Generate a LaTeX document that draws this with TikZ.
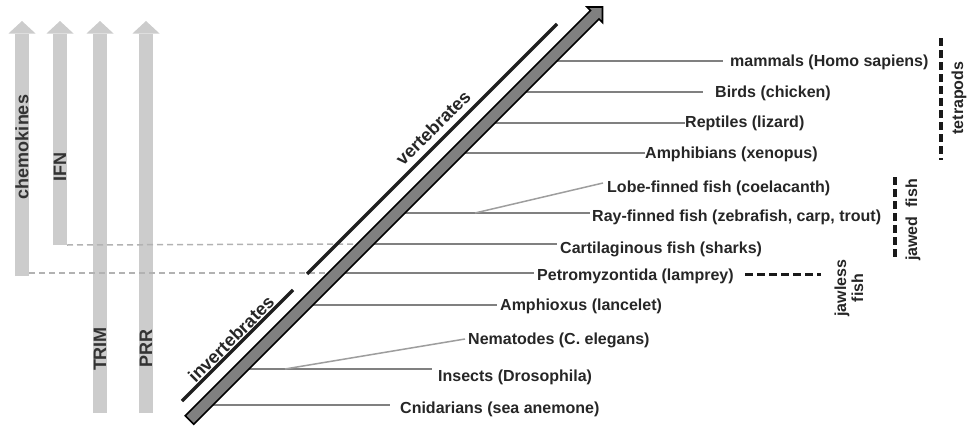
\documentclass[tikz,border=0pt]{standalone}
\usepackage{fontspec}
\setmainfont{Liberation Sans}
\usetikzlibrary{arrows.meta, calc}

\begin{document}
\begin{tikzpicture}[x=1pt, y=-1pt,
  taxon/.style={font=\fontsize{16}{18}\selectfont\bfseries, text=black!85,
                inner sep=0pt, anchor=west},
  branch/.style={draw=black!50, line width=2pt},
  twig/.style={draw=black!38, line width=1.5pt},
  gene/.style={draw=black!20, line width=14pt,
               -{Triangle[width=27pt, length=12.5pt, line width=0pt]}},
  genelabel/.style={font=\fontsize{18}{20}\selectfont\bfseries, text=black!80,
                    rotate=90},
  link/.style={draw=black!30, line width=1.5pt, dash pattern=on 6pt off 4pt},
  clade/.style={draw=black!88, line width=3.5pt},
  cladelabel/.style={font=\fontsize{18}{20}\selectfont\bfseries, text=black!85,
                     rotate=45},
  group/.style={draw=black!90, line width=4pt, dash pattern=on 8pt off 4pt},
  grouplabel/.style={font=\fontsize{16}{17}\selectfont\bfseries, text=black!85,
                     rotate=90, align=center, inner sep=0pt}]
  \useasboundingbox (0,0) rectangle (969,431);

  % Gene families
  \coordinate (chem-b) at (22,276);
  \coordinate (chem-t) at (22,21);
  \coordinate (ifn-b) at (60,245);
  \coordinate (ifn-t) at (60,21);
  \coordinate (trim-b) at (100,413);
  \coordinate (trim-t) at (100,21);
  \coordinate (prr-b) at (146,413);
  \coordinate (prr-t) at (146,21);
  \draw[gene] (chem-b) -- (chem-t);
  \draw[gene] (ifn-b) -- (ifn-t);
  \draw[gene] (trim-b) -- (trim-t);
  \draw[gene] (prr-b) -- (prr-t);
  \node[genelabel] (chem) at (22,147) {chemokines};
  \node[genelabel] (ifn) at (60,167) {IFN};
  \node[genelabel] (trim) at (100,349) {TRIM};
  \node[genelabel] (prr) at (146,348) {PRR};

  % Branch points on the axis
  \coordinate (a-mam) at (548.5,61);
  \coordinate (a-bir) at (517.5,92);
  \coordinate (a-rep) at (486.5,123);
  \coordinate (a-amp) at (456.5,153);
  \coordinate (a-ray) at (396.5,213);
  \coordinate (a-car) at (365.5,244);
  \coordinate (a-pet) at (336.5,273);
  \coordinate (a-amx) at (304.5,305);
  \coordinate (a-ins) at (240.5,369);
  \coordinate (a-cni) at (204.5,405);
  \coordinate (b-lob) at (475,213);
  \coordinate (b-nem) at (285,369);

  % Taxa
  \node[taxon] (mam) at (730,62) {mammals (Homo sapiens)};
  \node[taxon] (bir) at (715,93) {Birds (chicken)};
  \node[taxon] (rep) at (685,123) {Reptiles (lizard)};
  \node[taxon] (amp) at (645,154) {Amphibians (xenopus)};
  \node[taxon] (lob) at (607,188) {Lobe-finned fish (coelacanth)};
  \node[taxon] (ray) at (592,217) {Ray-finned fish (zebrafish, carp, trout)};
  \node[taxon] (car) at (560,249) {Cartilaginous fish (sharks)};
  \node[taxon] (pet) at (537,276) {Petromyzontida (lamprey)};
  \node[taxon] (amx) at (500,306) {Amphioxus (lancelet)};
  \node[taxon] (nem) at (468,340) {Nematodes (C. elegans)};
  \node[taxon] (ins) at (438,377) {Insects (Drosophila)};
  \node[taxon] (cni) at (400,409) {Cnidarians (sea anemone)};

  % Links from gene families to the tree
  \draw[link] (ifn-b -| 67,0) -- (a-car);
  \draw[link] (29,273) -- (a-pet);

  % Branches
  \draw[branch, shorten >=7pt] (a-mam) -- (a-mam -| mam.west);
  \draw[branch, shorten >=12pt] (a-bir) -- (a-bir -| bir.west);
  \draw[branch] (a-rep) -- (a-rep -| rep.west);
  \draw[branch] (a-amp) -- (a-amp -| amp.west);
  \draw[branch, shorten >=2pt] (a-ray) -- (a-ray -| ray.west);
  \draw[branch, shorten >=3pt] (a-car) -- (a-car -| car.west);
  \draw[branch, shorten >=3pt] (a-pet) -- (a-pet -| pet.west);
  \draw[branch, shorten >=3pt] (a-amx) -- (a-amx -| amx.west);
  \draw[branch, shorten >=6pt] (a-ins) -- (a-ins -| ins.west);
  \draw[branch, shorten >=10pt] (a-cni) -- (a-cni -| cni.west);
  \draw[twig] (b-lob) -- ([shift={(-4,-5)}]lob.west);
  \draw[twig] (b-nem) -- ([shift={(-3,-1)}]nem.west);

  % Time axis
  \coordinate (ax-s) at (189.5,420);
  \coordinate (ax-t) at (602.5,7);
  \coordinate (ax-h) at ($(ax-t)!11pt!(ax-s)$);
  \draw[fill=black!50, line width=1.6pt, line join=miter]
    ($(ax-s)!6pt!90:(ax-t)$) -- ($(ax-h)!6pt!90:(ax-t)$)
    -- ($(ax-h)!11pt!90:(ax-t)$) -- (ax-t)
    -- ($(ax-h)!11pt!-90:(ax-t)$) -- ($(ax-h)!6pt!-90:(ax-t)$)
    -- ($(ax-s)!6pt!-90:(ax-t)$) -- cycle;

  % Invertebrates / vertebrates
  \coordinate (inv-s) at (182,401);
  \coordinate (inv-e) at (293,290);
  \coordinate (ver-s) at (307,274);
  \coordinate (ver-e) at (557,24);
  \draw[clade] (inv-s) -- (inv-e);
  \draw[clade] (ver-s) -- (ver-e);
  \node[cladelabel] (inv) at (231,339) {invertebrates};
  \node[cladelabel] (ver) at (433,128) {vertebrates};

  % Groups
  \draw[group] (941,38) -- (941,160);
  \node[grouplabel] (tet) at (959,98) {tetrapods};
  \draw[group] (895,177) -- (895,258);
  \node[grouplabel] (jaw) at (913,220) {jawed~ fish};
  \draw[group, line width=3pt] (745,274) -- (821,274);
  \node[grouplabel] (jls) at (849,288) {jawless\\fish};
\end{tikzpicture}
\end{document}
